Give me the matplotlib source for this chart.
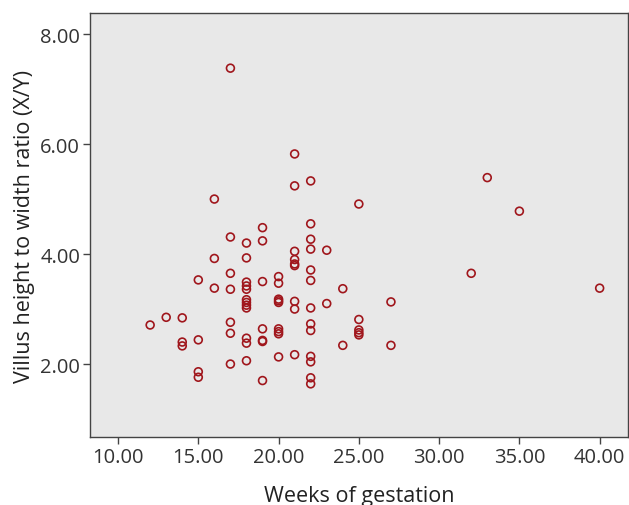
import numpy as np
import matplotlib
matplotlib.use('Agg')
import matplotlib.pyplot as plt

# weeks of gestation and villus height/width ratio
weeks = [12, 13,
         14, 14, 14,
         15, 15, 15, 15,
         16, 16, 16,
         17, 17, 17, 17, 17, 17, 17,
         18, 18, 18, 18, 18, 18, 18, 18, 18, 18, 18, 18,
         19, 19, 19, 19, 19, 19, 19,
         20, 20, 20, 20, 20, 20, 20, 20, 20,
         21, 21, 21, 21, 21, 21, 21, 21, 21,
         22, 22, 22, 22, 22, 22, 22, 22, 22, 22, 22, 22, 22,
         23, 23,
         24, 24,
         25, 25, 25, 25, 25,
         27, 27,
         32, 33, 35, 40]
ratio = [2.71, 2.85,
         2.84, 2.40, 2.33,
         3.53, 2.44, 1.86, 1.76,
         5.00, 3.92, 3.38,
         7.38, 4.31, 3.65, 3.36, 2.76, 2.56, 2.00,
         4.20, 3.93, 3.49, 3.42, 3.36, 3.17, 3.12, 3.07, 3.02, 2.47, 2.38, 2.06,
         4.48, 4.24, 3.50, 2.64, 2.43, 2.41, 1.70,
         3.59, 3.47, 3.18, 3.15, 2.64, 2.59, 2.55, 2.13, 3.12,
         5.82, 5.24, 4.05, 3.90, 3.82, 3.79, 3.14, 3.00, 2.17,
         5.33, 4.55, 4.27, 4.09, 3.71, 3.52, 3.02, 2.73, 2.61, 2.14, 2.04, 1.75, 1.64,
         4.07, 3.10,
         3.37, 2.34,
         4.91, 2.81, 2.62, 2.57, 2.53,
         3.13, 2.34,
         3.65, 5.39, 4.78, 3.38]

xticks = [10, 15, 20, 25, 30, 35, 40]
yticks = [2, 4, 6, 8]

plt.rcParams['font.family'] = ['Open Sans', 'DejaVu Sans']

fig = plt.figure(figsize=(6.29, 5.06), dpi=100)
ax = fig.add_axes([0.143, 0.134, 0.855, 0.838])
ax.set_facecolor('#e8e8e8')

ax.scatter(weeks, ratio, s=32, facecolors='none', edgecolors='#a0161c', linewidths=1.2, zorder=3)

ax.set_xlim(8.25, 41.75)
ax.set_ylim(0.67, 8.38)
ax.set_xticks(xticks)
ax.set_xticklabels(['%.2f' % t for t in xticks])
ax.set_yticks(yticks)
ax.set_yticklabels(['%.2f' % t for t in yticks])

for s in ax.spines.values():
    s.set_color('#444444')
    s.set_linewidth(1.0)
ax.tick_params(direction='out', length=5, width=1, colors='#444444', labelsize=14.5,
               labelcolor='#333333', pad=2)

ax.set_xlabel('Weeks of gestation', fontsize=15.5, color='#222222', labelpad=13)
ax.set_ylabel('Villus height to width ratio (X/Y)', fontsize=15.5, color='#222222', labelpad=4)

fig.savefig('out.png', dpi=100)
